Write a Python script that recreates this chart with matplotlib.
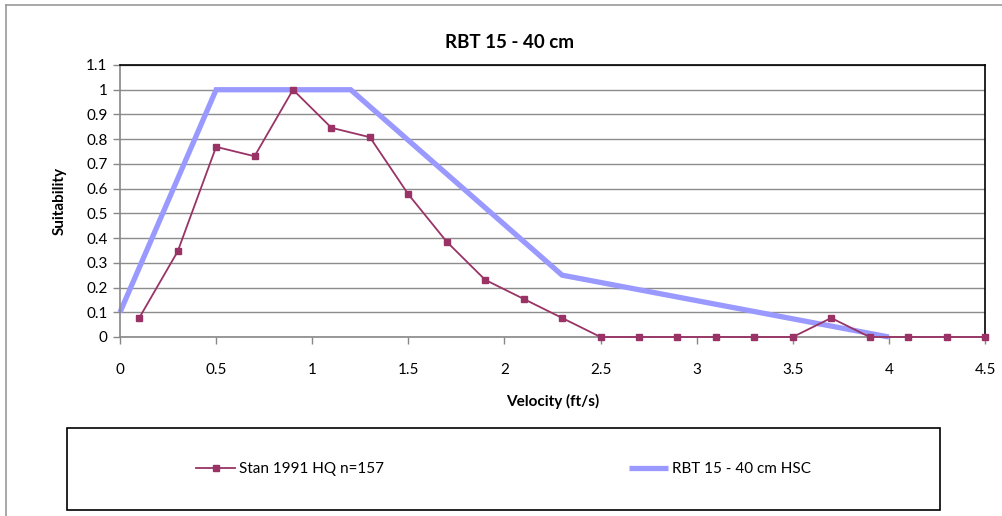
import matplotlib
matplotlib.use("Agg")
import matplotlib.pyplot as plt
from matplotlib.lines import Line2D
from matplotlib.patches import Rectangle

plt.rcParams['font.family'] = ['Lato', 'DejaVu Sans']

# Data
stan_x = [0.1, 0.3, 0.5, 0.7, 0.9, 1.1, 1.3, 1.5, 1.7, 1.9, 2.1, 2.3,
          2.5, 2.7, 2.9, 3.1, 3.3, 3.5, 3.7, 3.9, 4.1, 4.3, 4.5]
stan_y = [0.077, 0.346, 0.769, 0.731, 1.0, 0.846, 0.808, 0.577, 0.385, 0.231, 0.154, 0.077,
          0.0, 0.0, 0.0, 0.0, 0.0, 0.0, 0.077, 0.0, 0.0, 0.0, 0.0]
hsc_x = [0.0, 0.5, 1.2, 2.3, 4.0]
hsc_y = [0.1, 1.0, 1.0, 0.25, 0.0]

x_ticks = [0, 0.5, 1, 1.5, 2, 2.5, 3, 3.5, 4, 4.5]
x_tick_labels = ['0', '0.5', '1', '1.5', '2', '2.5', '3', '3.5', '4', '4.5']
y_ticks = [0, 0.1, 0.2, 0.3, 0.4, 0.5, 0.6, 0.7, 0.8, 0.9, 1.0, 1.1]
y_tick_labels = ['0', '0.1', '0.2', '0.3', '0.4', '0.5', '0.6', '0.7', '0.8', '0.9', '1', '1.1']

title = 'RBT 15 - 40 cm'
xlabel = 'Velocity (ft/s)'
ylabel = 'Suitability'
stan_label = 'Stan 1991 HQ n=157'
hsc_label = 'RBT 15 - 40 cm HSC'

W, H = 1003, 516
fig = plt.figure(figsize=(W / 100, H / 100), dpi=100)
fig.patch.set_facecolor('white')

left, right, top, bottom = 120, 985, 65, 337
ax = fig.add_axes([left / W, 1 - bottom / H, (right - left) / W, (bottom - top) / H])

ax.plot(stan_x, stan_y, color='#993366', lw=1.3, marker='s', markersize=5,
        markerfacecolor='#993366', markeredgecolor='#993366', label=stan_label, zorder=3,
        clip_on=False)
ax.plot(hsc_x, hsc_y, color='#9999FF', lw=3.8, label=hsc_label, zorder=2,
        solid_joinstyle='miter', solid_capstyle='butt', clip_on=False)

ax.set_xlim(0, 4.5)
ax.set_ylim(0, 1.1)
ax.set_xticks(x_ticks)
ax.set_xticklabels(x_tick_labels)
ax.set_yticks(y_ticks)
ax.set_yticklabels(y_tick_labels)
ax.tick_params(axis='both', labelsize=11, length=5, color='#888888', direction='out', width=1)
ax.tick_params(axis='x', pad=14)
ax.tick_params(axis='y', pad=4)

ax.yaxis.grid(True, color='#8c8c8c', lw=1)
ax.set_axisbelow(True)

for s in ['top', 'right']:
    ax.spines[s].set_color('black')
    ax.spines[s].set_linewidth(1.2)
for s in ['left', 'bottom']:
    ax.spines[s].set_color('#888888')
    ax.spines[s].set_linewidth(1.2)

fig.text(510 / W, 1 - 43 / H, title, fontsize=13.5, fontweight='bold',
         ha='center', va='center')
ax.set_xlabel(xlabel, fontsize=11, fontweight='bold', labelpad=12)
ax.set_ylabel(ylabel, fontsize=11, fontweight='bold', labelpad=14)

# legend
lx0, lx1, ly0, ly1 = 67, 940, 428, 510
leg = fig.legend(loc='center',
                 bbox_to_anchor=(lx0 / W, 1 - ly1 / H, (lx1 - lx0) / W, (ly1 - ly0) / H),
                 ncol=2, frameon=False, fontsize=11, handlelength=2.6,
                 handletextpad=0.25, columnspacing=16.0, borderaxespad=0)
fig.add_artist(Rectangle((lx0 / W, 1 - ly1 / H), (lx1 - lx0) / W, (ly1 - ly0) / H,
                         transform=fig.transFigure, fill=False, edgecolor='black', lw=1.2))

# outer chart border (left and top)
fig.add_artist(Line2D([6 / W, 6 / W], [0, 1 - 5 / H], transform=fig.transFigure,
                      color='#999999', lw=1.2))
fig.add_artist(Line2D([6 / W, 1], [1 - 5 / H, 1 - 5 / H], transform=fig.transFigure,
                      color='#999999', lw=1.2))

fig.savefig('out.png', dpi=100, facecolor='white')
